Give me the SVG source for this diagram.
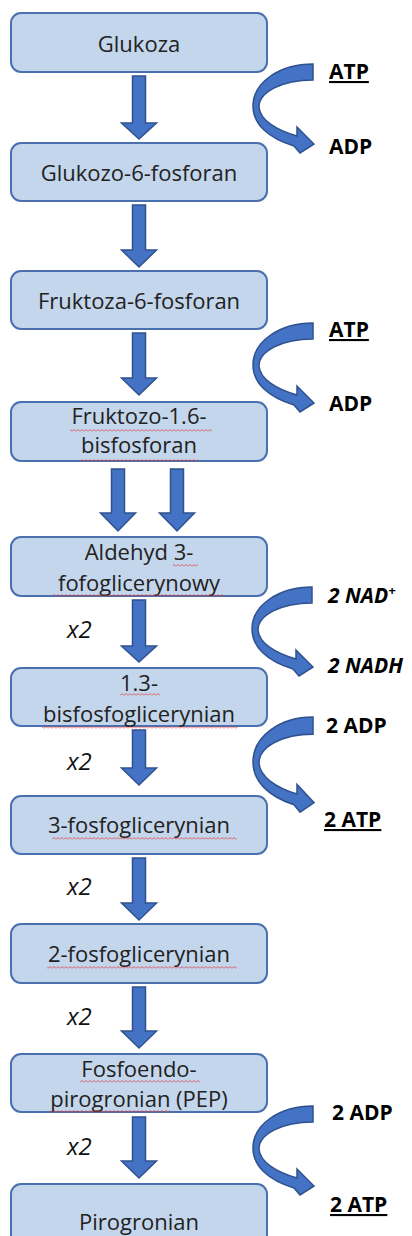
<svg xmlns="http://www.w3.org/2000/svg" width="412" height="1236" viewBox="0 0 412 1236">
<style>
.box{fill:#C4D6EC;stroke:#4A70B0;stroke-width:2}
.t{font-family:"Open Sans","Liberation Sans",sans-serif;font-size:22px;fill:#222;text-anchor:middle}
.x{font-family:"Open Sans","Liberation Sans",sans-serif;font-size:24px;font-style:italic;fill:#111}
.lb{font-family:"Open Sans","Liberation Sans",sans-serif;font-size:21px;font-weight:bold;fill:#000}
.u{text-decoration:underline}
.i{font-style:italic}
.arr{fill:#4472C4;stroke:#2F528F;stroke-width:1.5;stroke-linejoin:miter}
.sq{fill:url(#sq)}
</style>
<defs>
<pattern id="sq" width="4" height="3" patternUnits="userSpaceOnUse"><path d="M0,2.5 L2,0.5 L4,2.5" fill="none" stroke="#E03A3A" stroke-width="0.8"/></pattern>
<path id="curve" d="M0,0 C-33,0 -60,18 -60,42 C-60,60 -45,74 -19,82 L-13,89 L1,80 L-16,63 L-16,72 C-37,66 -53,56 -54,43 C-54,28 -31,16 0,16 Z"/>
</defs>

<g id="connectors">
<path class="arr" d="M132.5,76 H145.5 V123 H156.5 L139,139 L121.5,123 H132.5 Z"/>
<path class="arr" d="M132.5,205 H145.5 V250 H156.5 L139,267 L121.5,250 H132.5 Z"/>
<path class="arr" d="M132.5,333 H145.5 V378 H156.5 L139,395 L121.5,378 H132.5 Z"/>
<path class="arr" d="M111.5,469 H124.5 V513 H135.5 L118,531 L100.5,513 H111.5 Z"/>
<path class="arr" d="M170.5,469 H183.5 V513 H194.5 L177,531 L159.5,513 H170.5 Z"/>
<path class="arr" d="M132.5,600 H145.5 V646 H156.5 L139,662 L121.5,646 H132.5 Z"/>
<path class="arr" d="M132.5,730 H145.5 V768 H156.5 L139,785 L121.5,768 H132.5 Z"/>
<path class="arr" d="M132.5,858 H145.5 V903 H156.5 L139,920 L121.5,903 H132.5 Z"/>
<path class="arr" d="M132.5,987 H145.5 V1031 H156.5 L139,1048 L121.5,1031 H132.5 Z"/>
<path class="arr" d="M132.5,1117 H145.5 V1161 H156.5 L139,1178 L121.5,1161 H132.5 Z"/>
<use href="#curve" class="arr" transform="translate(313,64)"/>
<use href="#curve" class="arr" transform="translate(313,323)"/>
<use href="#curve" class="arr" transform="translate(312,587)"/>
<use href="#curve" class="arr" transform="translate(313,717) scale(1,1.07)"/>
<use href="#curve" class="arr" transform="translate(313,1106)"/>
</g>

<g id="glukoza"><rect class="box" x="11" y="13" width="256" height="59" rx="10"/><text class="t" x="139" y="52">Glukoza</text></g>
<g id="glukozo6p"><rect class="box" x="11" y="143" width="256" height="58" rx="10"/><text class="t" x="139" y="181">Glukozo-6-fosforan</text></g>
<g id="fruktoza6p"><rect class="box" x="11" y="271" width="256" height="58" rx="10"/><text class="t" x="139" y="309">Fruktoza-6-fosforan</text></g>
<g id="fruktozo16bp"><rect class="box" x="11" y="402" width="256" height="59" rx="10"/><text class="t" x="139" y="424">Fruktozo-1.6-</text><text class="t" x="139" y="453">bisfosforan</text>
<rect class="sq" x="70" y="429" width="142" height="3"/><rect class="sq" x="80" y="459" width="118" height="3"/></g>
<g id="aldehyd"><rect class="box" x="11" y="537" width="256" height="59" rx="10"/><text class="t" x="139" y="560">Aldehyd 3-</text><text class="t" x="139" y="591">fofoglicerynowy</text>
<rect class="sq" x="173" y="564" width="25" height="3"/><rect class="sq" x="53" y="594" width="172" height="3"/></g>
<g id="bisfosfoglicerynian"><rect class="box" x="11" y="668" width="256" height="58" rx="10"/><text class="t" x="139" y="691">1.3-</text><text class="t" x="139" y="722">bisfosfoglicerynian</text>
<rect class="sq" x="120" y="693" width="40" height="3"/><rect class="sq" x="42" y="726" width="196" height="3"/></g>
<g id="fosfoglicerynian3"><rect class="box" x="11" y="796" width="256" height="58" rx="10"/><text class="t" x="139" y="833">3-fosfoglicerynian</text>
<rect class="sq" x="52" y="837" width="185" height="3"/></g>
<g id="fosfoglicerynian2"><rect class="box" x="11" y="924" width="256" height="59" rx="10"/><text class="t" x="139" y="962">2-fosfoglicerynian</text>
<rect class="sq" x="47" y="966" width="190" height="3"/></g>
<g id="pep"><rect class="box" x="11" y="1054" width="256" height="58" rx="10"/><text class="t" x="139" y="1077">Fosfoendo-</text><text class="t" x="139" y="1107">pirogronian (PEP)</text>
<rect class="sq" x="80" y="1080" width="120" height="3"/><rect class="sq" x="50" y="1110" width="120" height="3"/></g>
<g id="pirogronian"><rect class="box" x="11" y="1184" width="256" height="70" rx="10"/><text class="t" x="139" y="1230">Pirogronian</text></g>

<g id="labels">
<text class="lb u" x="329" y="79">ATP</text>
<text class="lb" x="329" y="154">ADP</text>
<text class="lb u" x="329" y="337">ATP</text>
<text class="lb" x="329" y="411">ADP</text>
<text class="lb i" x="328" y="603">2 NAD<tspan font-size="13" dy="-8">+</tspan></text>
<text class="lb i" x="328" y="673">2 NADH</text>
<text class="lb" x="326" y="733">2 ADP</text>
<text class="lb u" x="324" y="827">2 ATP</text>
<text class="lb" x="332" y="1120">2 ADP</text>
<text class="lb u" x="330" y="1212">2 ATP</text>
<text class="x" x="67" y="638">x2</text>
<text class="x" x="67" y="770">x2</text>
<text class="x" x="67" y="895">x2</text>
<text class="x" x="67" y="1025">x2</text>
<text class="x" x="67" y="1155">x2</text>
</g>
</svg>
